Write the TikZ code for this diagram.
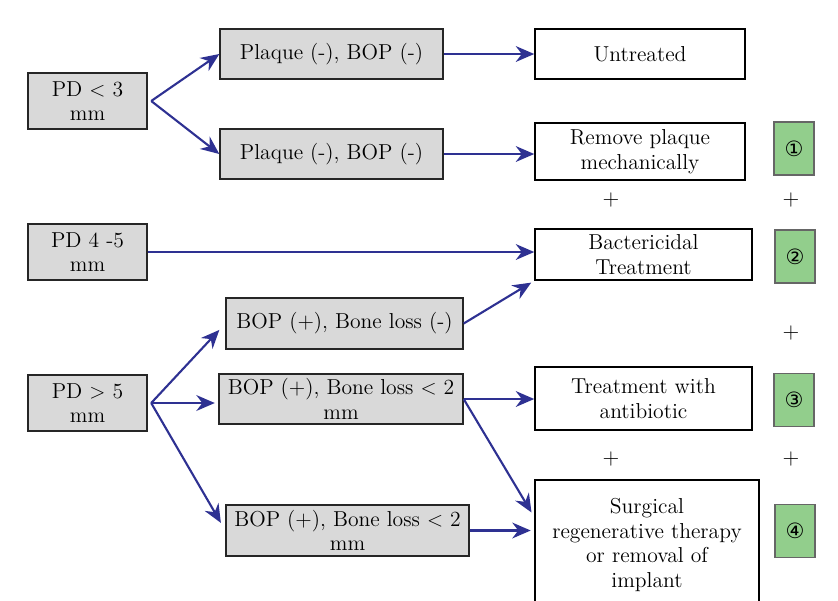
\documentclass[tikz,border=0pt]{standalone}
\usepackage{fontspec}
\usepackage{tikz}
\usetikzlibrary{calc, arrows.meta}
\newfontfamily\circfont{DejaVu Sans}

\definecolor{flowblue}{RGB}{46,49,146}
\definecolor{condgray}{RGB}{217,217,217}
\definecolor{stepgreen}{RGB}{146,206,140}

\tikzset{
    every node/.style={font=\fontsize{12.3}{14}\selectfont},
    cond/.style={draw=black!85, line width=0.8pt, fill=condgray, align=center, inner sep=1pt},
    treat/.style={draw=black, line width=0.9pt, fill=white, align=center, inner sep=1pt},
    numbox/.style={draw=black!60, line width=0.6pt, fill=stepgreen, minimum width=0.8cm, minimum height=1.06cm, font=\circfont\fontsize{12}{14}\selectfont},
    flow/.style={draw=flowblue, line width=1.2pt, -{Stealth[length=10.5pt, width=9pt]}},
    plus/.style={font=\fontsize{12.5}{14}\selectfont}
}

\begin{document}
\begin{tikzpicture}[x=0.02cm, y=-0.02cm]
    \useasboundingbox (0, 0) rectangle (838, 600);

    % Probing depth
    \node[cond, minimum width=2.38cm, minimum height=1.12cm] (pd3) at (87.5, 101) {PD $<$ 3\\mm};
    \node[cond, minimum width=2.38cm, minimum height=1.12cm] (pd45) at (87.5, 252) {PD 4 -5\\mm};
    \node[cond, minimum width=2.38cm, minimum height=1.12cm] (pd5) at (87.5, 403) {PD $>$ 5\\mm};

    % Findings
    \node[cond, minimum width=4.46cm, minimum height=1cm] (plaqueA) at (331.5, 54) {Plaque (-), BOP (-)};
    \node[cond, minimum width=4.46cm, minimum height=1cm] (plaqueB) at (331.5, 154) {Plaque (-), BOP (-)};
    \node[cond, minimum width=4.74cm, minimum height=1.02cm] (boneA) at (344.5, 323.5) {BOP (+), Bone loss (-)};
    \node[cond, minimum width=4.88cm, minimum height=1cm] (boneB) at (341, 399) {BOP (+), Bone loss $<$ 2\\mm};
    \node[cond, minimum width=4.86cm, minimum height=1.02cm] (boneC) at (347.5, 530.5) {BOP (+), Bone loss $<$ 2\\mm};

    % Treatments
    \node[treat, minimum width=4.2cm, minimum height=1cm] (untreated) at (640, 54) {Untreated};
    \node[treat, minimum width=4.2cm, minimum height=1.14cm] (remove) at (640, 151.5) {Remove plaque\\mechanically};
    \node[treat, minimum width=4.34cm, minimum height=1.02cm] (bact) at (643.5, 254.5) {Bactericidal\\Treatment};
    \node[treat, minimum width=4.34cm, minimum height=1.26cm] (anti) at (643.5, 398.5) {Treatment with\\antibiotic};
    \node[treat, minimum width=4.48cm, minimum height=2.6cm] (surg) at (647, 545) {Surgical\\regenerative therapy\\or removal of\\implant};

    % Steps
    \node[numbox] (one) at (794, 148.5) {①};
    \node[numbox] (two) at (795, 256.5) {②};
    \node[numbox] (three) at (794, 400) {③};
    \node[numbox] (four) at (795, 531) {④};

    \node[plus] (plusA) at (611, 200) {+};
    \node[plus] (plusB) at (791, 200) {+};
    \node[plus] (plusC) at (791, 333) {+};
    \node[plus] (plusD) at (611, 459) {+};
    \node[plus] (plusE) at (791, 459) {+};

    % Arrows
    \draw[flow] ([xshift=2pt]pd3.east) -- (plaqueA.west);
    \draw[flow] ([xshift=2pt]pd3.east) -- (plaqueB.west);
    \draw[flow] (plaqueA.east) -- (untreated.west);
    \draw[flow] (plaqueB.east) -- (plaqueB.east -| remove.west);
    \draw[flow] (pd45.east) -- (pd45.east -| bact.west);
    \draw[flow, shorten >=2pt] (boneA.east) -- (bact.south west);
    \draw[flow, shorten >=5pt] ([xshift=2pt]pd5.east) -- (boneA.west);
    \draw[flow, shorten >=2pt] ([xshift=2pt]pd5.east) -- (pd5.east -| boneB.west);
    \draw[flow, shorten >=5pt] ([xshift=2pt]pd5.east) -- (boneC.west);
    \draw[flow] (boneB.east) -- (boneB.east -| anti.west);
    \draw[flow, shorten >=3pt] (boneB.east) -- ([yshift=0.56cm]surg.west);
    \draw[flow, shorten >=2pt] (boneC.east) -- (boneC.east -| surg.west);
\end{tikzpicture}
\end{document}
